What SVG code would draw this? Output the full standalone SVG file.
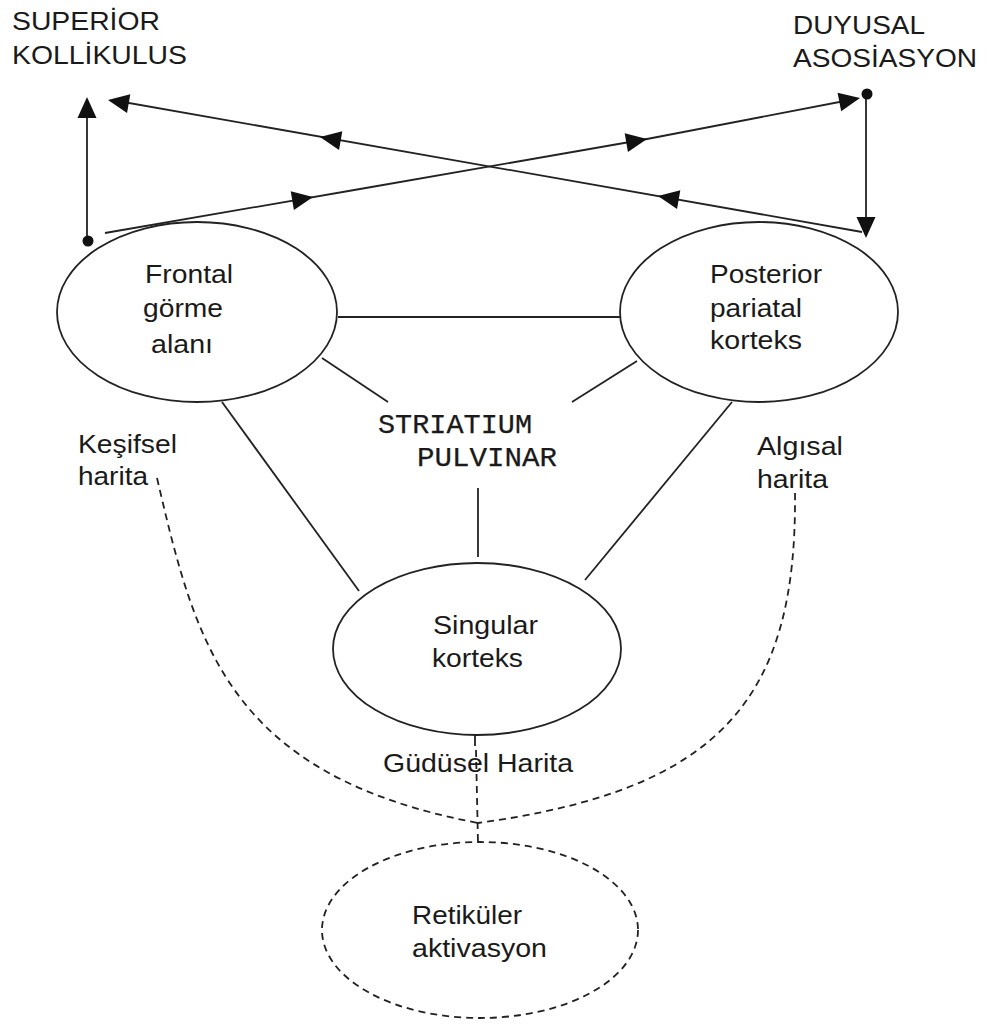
<svg xmlns="http://www.w3.org/2000/svg" width="990" height="1028" viewBox="0 0 990 1028">
<style>
.lbl{font-family:"Liberation Sans",Arial,sans-serif;font-size:25px;fill:#1a1a1a}
.mono{font-family:"Liberation Mono","Courier New",monospace;font-size:27px;fill:#1a1a1a;stroke:#1a1a1a;stroke-width:0.25}
.node{fill:none;stroke:#222;stroke-width:1.8}
.dnode{fill:none;stroke:#222;stroke-width:1.8;stroke-dasharray:7 5}
.ln{fill:none;stroke:#222;stroke-width:1.8}
.dash{fill:none;stroke:#222;stroke-width:1.8;stroke-dasharray:7 5}
.head{fill:#111}
</style>
<defs>
<path id="tri" class="head" d="M0,0 L-21,-9.5 L-21,9.5 Z"/>
</defs>
<rect width="990" height="1028" fill="#fff"/>

<g id="connectors">
<line class="ln" x1="338" y1="317" x2="620" y2="317"/>
<line class="ln" x1="322" y1="358" x2="388" y2="402"/>
<line class="ln" x1="637" y1="361" x2="572" y2="402"/>
<line class="ln" x1="222" y1="402" x2="359" y2="591"/>
<line class="ln" x1="732" y1="402" x2="585" y2="580"/>
<line class="ln" x1="478" y1="488" x2="478" y2="557"/>
<line class="ln" x1="475" y1="735" x2="475" y2="746"/>
<path class="dash" d="M476,750 L478,843"/>
<path class="dash" d="M157,478 C195,640 225,775 478,823"/>
<path class="dash" d="M795,493 C797,700 720,790 478,823"/>
<line class="ln" x1="87" y1="241" x2="87" y2="110"/>
<use href="#tri" transform="translate(87,97) rotate(-90)"/>
<circle cx="88" cy="241" r="5.5" fill="#111"/>
<line class="ln" x1="866" y1="94" x2="866" y2="225"/>
<use href="#tri" transform="translate(866,238) rotate(90)"/>
<circle cx="867" cy="94" r="5.5" fill="#111"/>
<path class="ln" d="M862,232 L112,100"/>
<use href="#tri" transform="translate(108,100) rotate(189.9)"/>
<use href="#tri" transform="translate(320,137) rotate(189.9)"/>
<use href="#tri" transform="translate(658,196) rotate(189.9)"/>
<path class="ln" d="M105,233 L360,189 L647,139 L855,99"/>
<use href="#tri" transform="translate(313,197) rotate(-9.8)"/>
<use href="#tri" transform="translate(647,139) rotate(-9.8)"/>
<use href="#tri" transform="translate(860,98) rotate(-10.9)"/>
</g>

<g id="frontal">
<ellipse class="node" cx="197" cy="312" rx="140" ry="90"/>
<text class="lbl" x="145" y="283" textLength="88" lengthAdjust="spacingAndGlyphs">Frontal</text>
<text class="lbl" x="143" y="317" textLength="80" lengthAdjust="spacingAndGlyphs">görme</text>
<text class="lbl" x="151" y="353" textLength="62" lengthAdjust="spacingAndGlyphs">alanı</text>
</g>

<g id="posterior">
<ellipse class="node" cx="759" cy="312" rx="139" ry="90"/>
<text class="lbl" x="710" y="283" textLength="112" lengthAdjust="spacingAndGlyphs">Posterior</text>
<text class="lbl" x="710" y="317" textLength="92" lengthAdjust="spacingAndGlyphs">pariatal</text>
<text class="lbl" x="710" y="349" textLength="92" lengthAdjust="spacingAndGlyphs">korteks</text>
</g>

<g id="singular">
<ellipse class="node" cx="477" cy="649" rx="144" ry="86"/>
<text class="lbl" x="433" y="634" textLength="105" lengthAdjust="spacingAndGlyphs">Singular</text>
<text class="lbl" x="432" y="667" textLength="91" lengthAdjust="spacingAndGlyphs">korteks</text>
</g>

<g id="retikuler">
<ellipse class="dnode" cx="480" cy="930" rx="158" ry="88"/>
<text class="lbl" x="412" y="924" textLength="110" lengthAdjust="spacingAndGlyphs">Retiküler</text>
<text class="lbl" x="412" y="957" textLength="135" lengthAdjust="spacingAndGlyphs">aktivasyon</text>
</g>

<g id="striatium">
<text class="mono" x="378" y="433" textLength="154" lengthAdjust="spacingAndGlyphs">STRIATIUM</text>
<text class="mono" x="417" y="466" textLength="140" lengthAdjust="spacingAndGlyphs">PULVINAR</text>
</g>

<g id="superior">
<text class="lbl" x="12" y="30" textLength="148" lengthAdjust="spacingAndGlyphs">SUPERİOR</text>
<text class="lbl" x="12" y="64" textLength="175" lengthAdjust="spacingAndGlyphs">KOLLİKULUS</text>
</g>

<g id="duyusal">
<text class="lbl" x="793" y="34" textLength="132" lengthAdjust="spacingAndGlyphs">DUYUSAL</text>
<text class="lbl" x="793" y="67" textLength="184" lengthAdjust="spacingAndGlyphs">ASOSİASYON</text>
</g>

<g id="kesifsel">
<text class="lbl" x="78" y="453" textLength="99" lengthAdjust="spacingAndGlyphs">Keşifsel</text>
<text class="lbl" x="78" y="485" textLength="70" lengthAdjust="spacingAndGlyphs">harita</text>
</g>

<g id="algisal">
<text class="lbl" x="757" y="455" textLength="86" lengthAdjust="spacingAndGlyphs">Algısal</text>
<text class="lbl" x="757" y="488" textLength="71" lengthAdjust="spacingAndGlyphs">harita</text>
</g>

<g id="gudusel">
<text class="lbl" x="383" y="772" textLength="190" lengthAdjust="spacingAndGlyphs">Güdüsel Harita</text>
</g>
</svg>
